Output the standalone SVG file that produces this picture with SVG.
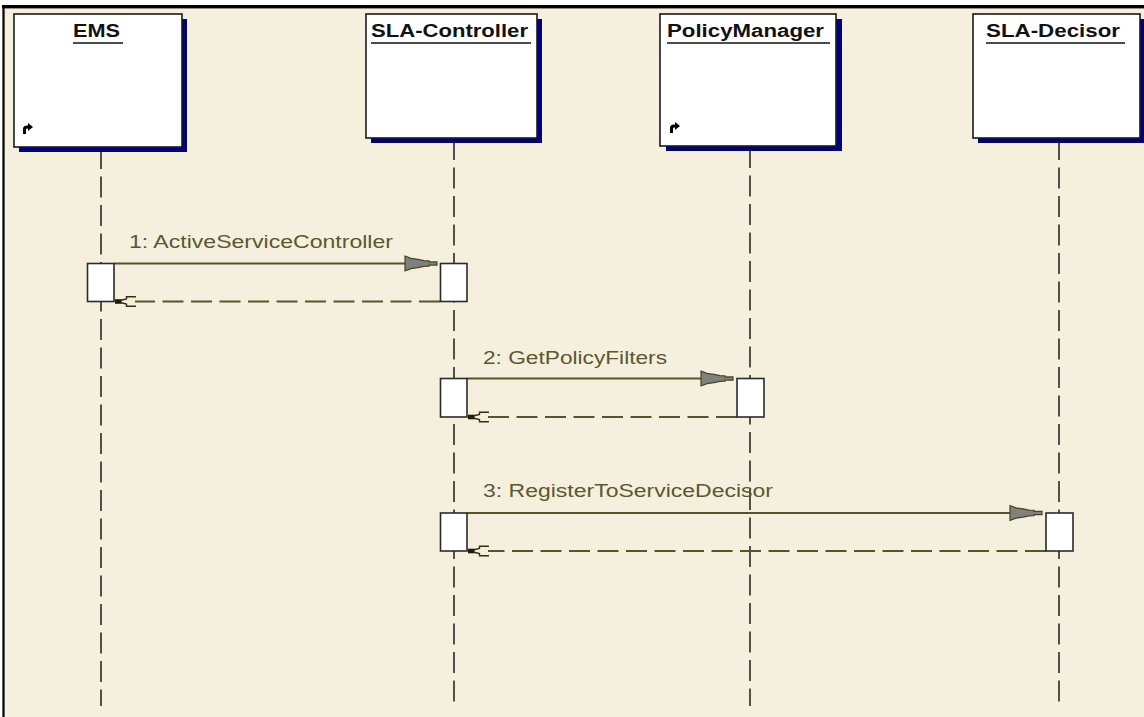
<svg xmlns="http://www.w3.org/2000/svg" xmlns:xlink="http://www.w3.org/1999/xlink" width="1144" height="717" viewBox="0 0 1144 717">
<style>
.shadow{fill:#000080}
.box{fill:#ffffff;stroke:#1a1a1a;stroke-width:1.6}
.title{font-family:"Liberation Sans",Arial,sans-serif;font-weight:bold;font-size:18px;fill:#111111}
.ul{stroke:#111111;stroke-width:1.6}
.life{stroke:#2a2a2a;stroke-width:1.6;stroke-dasharray:21 7.5;fill:none}
.act{fill:#ffffff;stroke:#2a2a2a;stroke-width:1.6}
.msg{stroke:#55552a;stroke-width:1.8;fill:none}
.ret{stroke:#55552a;stroke-width:1.8;fill:none;stroke-dasharray:21 7.5}
.lbl{font-family:"Liberation Sans",Arial,sans-serif;font-size:18px;fill:#5a5830}
.ah{fill:#808080;stroke:#46461c;stroke-width:1.2;stroke-linejoin:miter}
.rah{fill:none;stroke:#2e2e14;stroke-width:1.4}
.icon{fill:#000000}
</style>
<defs>
<path id="ah" class="ah" d="M-32,-7.5 L-26,-5.2 L-19,-4.2 L-13,-2.8 L-8,-2.6 L-8,-1.6 L0,-1.6 L0,1.6 L-8,1.6 L-8,2.6 L-13,2.8 L-19,4.2 L-26,5.2 L-32,7.5 Z"/>
<g id="rah">
<rect x="1" y="-2.3" width="6.5" height="4.6" fill="#1e1e0a"/>
<path class="rah" d="M22,-4.8 L12.5,-4.8 L12.5,-2.5 L7,-1.2 M22,4.8 L12.5,4.8 L12.5,2.5 L7,1.2"/>
</g>
<path id="icon" class="icon" d="M0,11 L0,6 Q0,2.5 4,2.5 L5,2.5 L5,0 L10,4 L5,8 L5,5.5 L4,5.5 Q3,5.5 3,7 L3,11 Z"/>
</defs>

<rect x="0" y="0" width="1144" height="717" fill="#ffffff"/>
<rect x="3.5" y="7" width="1140.5" height="710" fill="#f5f0dd"/>
<rect x="2" y="5" width="1142" height="3.4" fill="#000000"/>
<rect x="2.4" y="5" width="2.2" height="712" fill="#000000"/>

<g id="connectors">
<line class="life" x1="101" y1="148" x2="101" y2="706"/>
<line class="life" x1="454" y1="139" x2="454" y2="706"/>
<line class="life" x1="750" y1="147" x2="750" y2="706"/>
<line class="life" x1="1059" y1="139" x2="1059" y2="706"/>

<line class="msg" x1="114" y1="263.5" x2="406" y2="263.5"/>
<use xlink:href="#ah" href="#ah" transform="translate(437,263.5)"/>
<line class="ret" x1="440" y1="301.5" x2="135" y2="301.5"/>
<use xlink:href="#rah" href="#rah" transform="translate(114,301.5)"/>

<line class="msg" x1="467" y1="378.5" x2="702" y2="378.5"/>
<use xlink:href="#ah" href="#ah" transform="translate(733,378.5)"/>
<line class="ret" x1="737" y1="417" x2="488" y2="417"/>
<use xlink:href="#rah" href="#rah" transform="translate(467,417)"/>

<line class="msg" x1="467" y1="513" x2="1011" y2="513"/>
<use xlink:href="#ah" href="#ah" transform="translate(1042,513)"/>
<line class="ret" x1="1046" y1="551" x2="488" y2="551"/>
<use xlink:href="#rah" href="#rah" transform="translate(467,551)"/>

<text class="lbl" x="129" y="248" textLength="264" lengthAdjust="spacingAndGlyphs">1: ActiveServiceController</text>
<text class="lbl" x="483" y="364" textLength="184" lengthAdjust="spacingAndGlyphs">2: GetPolicyFilters</text>
<text class="lbl" x="483" y="497" textLength="290" lengthAdjust="spacingAndGlyphs">3: RegisterToServiceDecisor</text>
</g>

<g id="ems">
<rect class="shadow" x="19" y="19" width="168" height="133"/>
<rect class="box" x="14" y="14" width="168" height="133"/>
<text class="title" x="73" y="37" textLength="47" lengthAdjust="spacingAndGlyphs">EMS</text>
<line class="ul" x1="73" y1="43" x2="123" y2="43"/>
<use xlink:href="#icon" href="#icon" transform="translate(23,123)"/>
<rect class="act" x="87.5" y="263.5" width="26.5" height="38"/>
</g>

<g id="sla-controller">
<rect class="shadow" x="371" y="19" width="171" height="124"/>
<rect class="box" x="366" y="14" width="171" height="124"/>
<text class="title" x="371" y="37" textLength="157" lengthAdjust="spacingAndGlyphs">SLA-Controller</text>
<line class="ul" x1="371" y1="43" x2="531" y2="43"/>
<rect class="act" x="440.5" y="263.5" width="26.5" height="38"/>
<rect class="act" x="440.5" y="378.5" width="26.5" height="38.5"/>
<rect class="act" x="440.5" y="513" width="26.5" height="38"/>
</g>

<g id="policymanager">
<rect class="shadow" x="666" y="19" width="176" height="132"/>
<rect class="box" x="660" y="14" width="176" height="132"/>
<text class="title" x="667" y="37" textLength="157" lengthAdjust="spacingAndGlyphs">PolicyManager</text>
<line class="ul" x1="667" y1="43" x2="830" y2="43"/>
<use xlink:href="#icon" href="#icon" transform="translate(670,122)"/>
<rect class="act" x="737" y="378.5" width="27" height="38.5"/>
</g>

<g id="sla-decisor">
<rect class="shadow" x="978" y="19" width="167" height="124"/>
<rect class="box" x="973" y="14" width="167" height="124"/>
<text class="title" x="986" y="37" textLength="134" lengthAdjust="spacingAndGlyphs">SLA-Decisor</text>
<line class="ul" x1="986" y1="43" x2="1125" y2="43"/>
<rect class="act" x="1046" y="513" width="27" height="38"/>
</g>
</svg>
